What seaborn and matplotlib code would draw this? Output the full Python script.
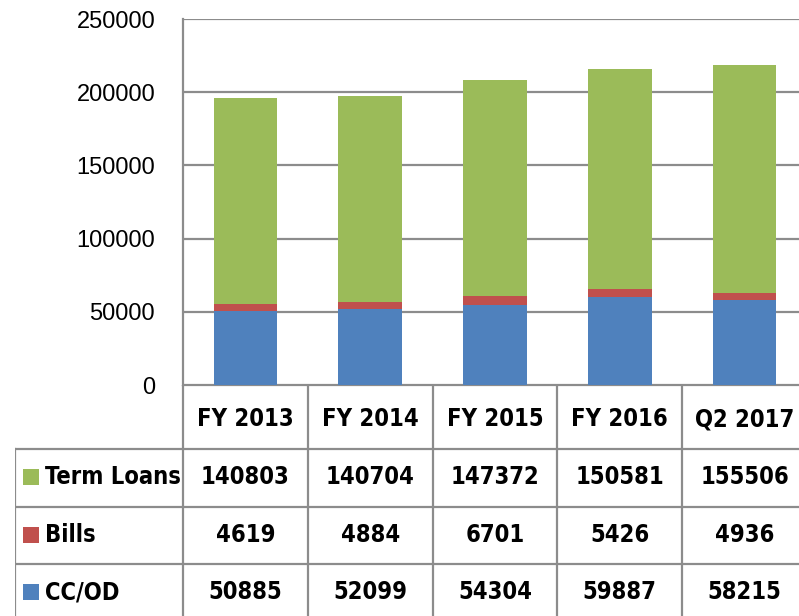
import numpy as np
import pandas as pd
import matplotlib
matplotlib.use("Agg")
import matplotlib.pyplot as plt
import seaborn as sns
from matplotlib import font_manager

# ── Data ─────────────────────────────────────────────────────────────────────
periods = ["FY 2013", "FY 2014", "FY 2015", "FY 2016", "Q2 2017"]
series_names = ["Term Loans", "Bills", "CC/OD"]
term_loans = [140803, 140704, 147372, 150581, 155506]
bills = [4619, 4884, 6701, 5426, 4936]
cc_od = [50885, 52099, 54304, 59887, 58215]
y_ticks = [0, 50000, 100000, 150000, 200000, 250000]

colors = {"Term Loans": "#9BBB59", "Bills": "#C0504D", "CC/OD": "#4F81BD"}
grid_c = "#8C8C8C"

sns.set_theme(style="white")
plt.rcParams["font.family"] = ["Liberation Sans", "DejaVu Sans"]
plt.rcParams["text.color"] = "black"
plt.rcParams["ytick.color"] = "black"

# condensed bold face for the table, if one is installed
has_cond = any("Condensed" in f.fname for f in font_manager.fontManager.ttflist)
if has_cond:
    bold_kw = dict(family=["DejaVu Sans"], fontstretch="condensed", fontsize=17)
else:
    bold_kw = dict(family=["Liberation Sans"], fontsize=16)

df = pd.DataFrame({"period": periods, "Term Loans": term_loans,
                   "Bills": bills, "CC/OD": cc_od})
# cumulative tops for stacking (CC/OD at bottom, then Bills, then Term Loans)
df["top_cc"] = df["CC/OD"]
df["top_bills"] = df["top_cc"] + df["Bills"]
df["top_term"] = df["top_bills"] + df["Term Loans"]

W, H = 799, 616
fig = plt.figure(figsize=(W / 100, H / 100), dpi=100)

# plot area in pixels: x 183..807 (cropped on the right), y 19..385
px_l, px_r, px_t, px_b = 183, 807, 19, 385
ax = fig.add_axes([px_l / W, 1 - px_b / H, (px_r - px_l) / W, (px_b - px_t) / H])

for col, name in [("top_term", "Term Loans"), ("top_bills", "Bills"), ("top_cc", "CC/OD")]:
    sns.barplot(data=df, x="period", y=col, color=colors[name], width=0.51,
                linewidth=0, saturation=1, ax=ax, zorder=3)

ax.set_xlim(-0.5, 4.5)
ax.set_ylim(0, 250000)
ax.set_yticks(y_ticks)
ax.set_yticklabels([str(v) for v in y_ticks], fontsize=17, color="black")
ax.tick_params(axis="y", length=0, pad=20)
ax.set_xticks([])
ax.set_xlabel("")
ax.set_ylabel("")
ax.yaxis.grid(True, color=grid_c, lw=1.6, zorder=0)
for s in ["top", "right", "bottom"]:
    ax.spines[s].set_visible(False)
ax.spines["left"].set_color(grid_c)
ax.spines["left"].set_linewidth(1.6)

# ── Data table below ─────────────────────────────────────────────────────────
col_w = (px_r - px_l) / len(periods)
tab_l = 15
x_left = -0.5 - (px_l - tab_l) / col_w
tab_bottom = 625
tab = fig.add_axes([tab_l / W, 1 - tab_bottom / H, (px_r - tab_l) / W, (tab_bottom - px_b) / H])
tab.set_xlim(x_left, 4.5)
tab.set_ylim(tab_bottom, px_b)
tab.axis("off")

row_lines = [449, 507, 564]
row_centers = [477, 535, 592]
lkw = dict(color=grid_c, lw=1.6, solid_capstyle="projecting")
tab.plot([-0.5, 4.5], [px_b, px_b], **lkw)
for y in row_lines:
    tab.plot([x_left, 4.5], [y, y], **lkw)
tab.plot([x_left, x_left], [row_lines[0], tab_bottom], **lkw)
for i in range(len(periods) + 1):
    tab.plot([i - 0.5, i - 0.5], [px_b, tab_bottom], **lkw)

for i, p in enumerate(periods):
    tab.text(i, 419, p, ha="center", va="center", fontweight="bold",
             color="black", **bold_kw)

rows = [("Term Loans", term_loans), ("Bills", bills), ("CC/OD", cc_od)]
sw = 16 / col_w
for (name, vals), yc in zip(rows, row_centers):
    tab.add_patch(plt.Rectangle((x_left + 8 / col_w, yc - 8), sw, 16,
                                color=colors[name], lw=0))
    tab.text(x_left + 30 / col_w, yc, name, ha="left", va="center",
             fontweight="bold", color="black", **bold_kw)
    for i, v in enumerate(vals):
        tab.text(i, yc, str(v), ha="center", va="center", fontweight="bold",
                 color="black", **bold_kw)

fig.savefig("out.png", dpi=100)
